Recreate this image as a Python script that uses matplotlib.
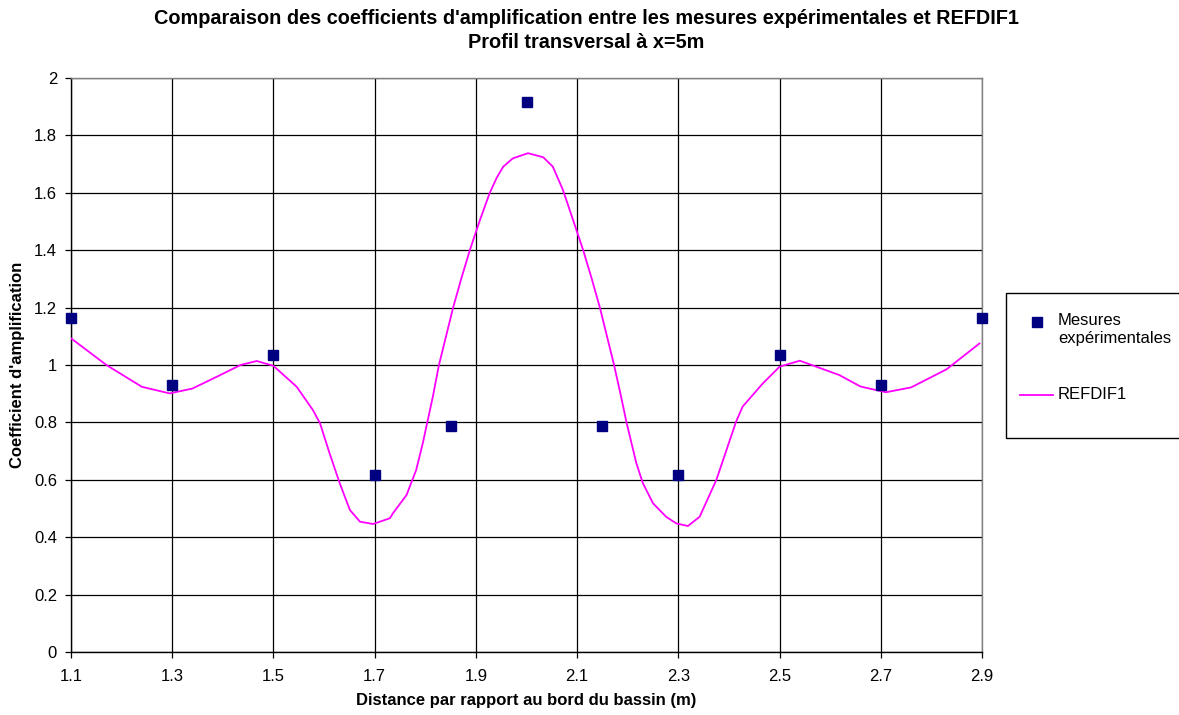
import numpy as np
import matplotlib
matplotlib.use("Agg")
import matplotlib.pyplot as plt
from matplotlib.patches import Rectangle
from matplotlib.lines import Line2D

plt.rcParams['font.family'] = ['Liberation Sans', 'DejaVu Sans']

# ---- mesures expérimentales ----
x_mes = [1.1, 1.3, 1.5, 1.7, 1.85, 2.0, 2.15, 2.3, 2.5, 2.7, 2.9]
y_mes = [1.165, 0.932, 1.035, 0.616, 0.786, 1.915, 0.786, 0.616, 1.035, 0.932, 1.165]

# ---- courbe REFDIF1 ----
x_ref = [1.10, 1.17, 1.24, 1.295, 1.34, 1.388, 1.435, 1.467, 1.50, 1.546, 1.578,
         1.592, 1.611, 1.631, 1.651, 1.671, 1.697, 1.73, 1.736, 1.763, 1.782,
         1.795, 1.815, 1.827, 1.841, 1.855, 1.871, 1.888, 1.907, 1.927, 1.941,
         1.954, 1.973, 2.003, 2.033, 2.052, 2.072, 2.093, 2.112, 2.129, 2.145,
         2.159, 2.173, 2.185, 2.198, 2.217, 2.23, 2.25, 2.276, 2.296, 2.319,
         2.342, 2.375, 2.414, 2.427, 2.467, 2.50, 2.54, 2.618, 2.66, 2.71,
         2.76, 2.83, 2.895]
y_ref = [1.093, 1.0, 0.924, 0.901, 0.918, 0.959, 1.0, 1.014, 0.997, 0.924, 0.843,
         0.797, 0.692, 0.588, 0.495, 0.454, 0.446, 0.466, 0.483, 0.547, 0.634,
         0.727, 0.890, 1.0, 1.10, 1.20, 1.30, 1.40, 1.50, 1.598, 1.652,
         1.691, 1.720, 1.738, 1.724, 1.691, 1.610, 1.50, 1.40, 1.30, 1.20,
         1.10, 1.0, 0.905, 0.797, 0.658, 0.588, 0.518, 0.471, 0.448, 0.439,
         0.471, 0.599, 0.802, 0.855, 0.936, 0.994, 1.015, 0.965, 0.925, 0.905,
         0.922, 0.985, 1.075]

xticks = [1.1, 1.3, 1.5, 1.7, 1.9, 2.1, 2.3, 2.5, 2.7, 2.9]
yticks = [0, 0.2, 0.4, 0.6, 0.8, 1, 1.2, 1.4, 1.6, 1.8, 2]

W, H = 1179, 715
fig = plt.figure(figsize=(W / 100, H / 100), dpi=100)
ax = fig.add_axes([71 / W, 1 - 652 / H, (982 - 71) / W, (652 - 78) / H])

ax.plot(x_ref, y_ref, color='#FF00FF', lw=1.3, zorder=3, solid_joinstyle='round')
ax.plot(x_mes, y_mes, 's', color='#000080', ms=6.5, mec='#000080', zorder=4,
        clip_on=False)

ax.set_xlim(1.1, 2.9)
ax.set_ylim(0, 2)
ax.set_xticks(xticks)
ax.set_xticklabels([f"{v:g}" for v in xticks])
ax.set_yticks(yticks)
ax.set_yticklabels([f"{v:g}" for v in yticks])
ax.grid(True, color='black', lw=0.9)
ax.set_axisbelow(True)
for s in ax.spines.values():
    s.set_color('#808080')
    s.set_linewidth(1.0)
ax.spines['bottom'].set_color('black')
ax.spines['left'].set_color('black')
ax.tick_params(axis='both', direction='out', length=4, width=0.9, labelsize=12,
               colors='black')
ax.tick_params(axis='x', pad=8)
ax.tick_params(axis='y', pad=6)

fig.text(526 / W, 1 - 701 / H, "Distance par rapport au bord du bassin (m)",
         ha='center', va='center', fontsize=12, fontweight='bold')
fig.text(18 / W, 1 - 365 / H, "Coefficient d'amplification", rotation=90,
         ha='center', va='center', fontsize=12, fontweight='bold')

fig.text(0.497, 1 - 18 / H, "Comparaison des coefficients d'amplification entre les mesures expérimentales et REFDIF1",
         ha='center', va='center', fontsize=14.3, fontweight='bold')
fig.text(0.497, 1 - 42 / H, "Profil transversal à x=5m",
         ha='center', va='center', fontsize=14.3, fontweight='bold')

# ---- légende ----
fig.patches.append(Rectangle((1006 / W, 1 - 438 / H), (1185 - 1006) / W, (438 - 293) / H,
                             transform=fig.transFigure, fill=False,
                             edgecolor='black', lw=1.0))
fig.add_artist(Line2D([1036.5 / W], [1 - 321.5 / H], marker='s', color='#000080',
                      ms=6.5, ls='none', transform=fig.transFigure))
fig.text(1058 / W, 1 - 321 / H, "Mesures", fontsize=12, va='center')
fig.text(1058 / W, 1 - 339 / H, "expérimentales", fontsize=12, va='center')
fig.add_artist(Line2D([1020 / W, 1053 / W], [1 - 395 / H, 1 - 395 / H],
                      color='#FF00FF', lw=1.3, transform=fig.transFigure))
fig.text(1058 / W, 1 - 395 / H, "REFDIF1", fontsize=12, va='center')

fig.savefig("out.png", dpi=100)
